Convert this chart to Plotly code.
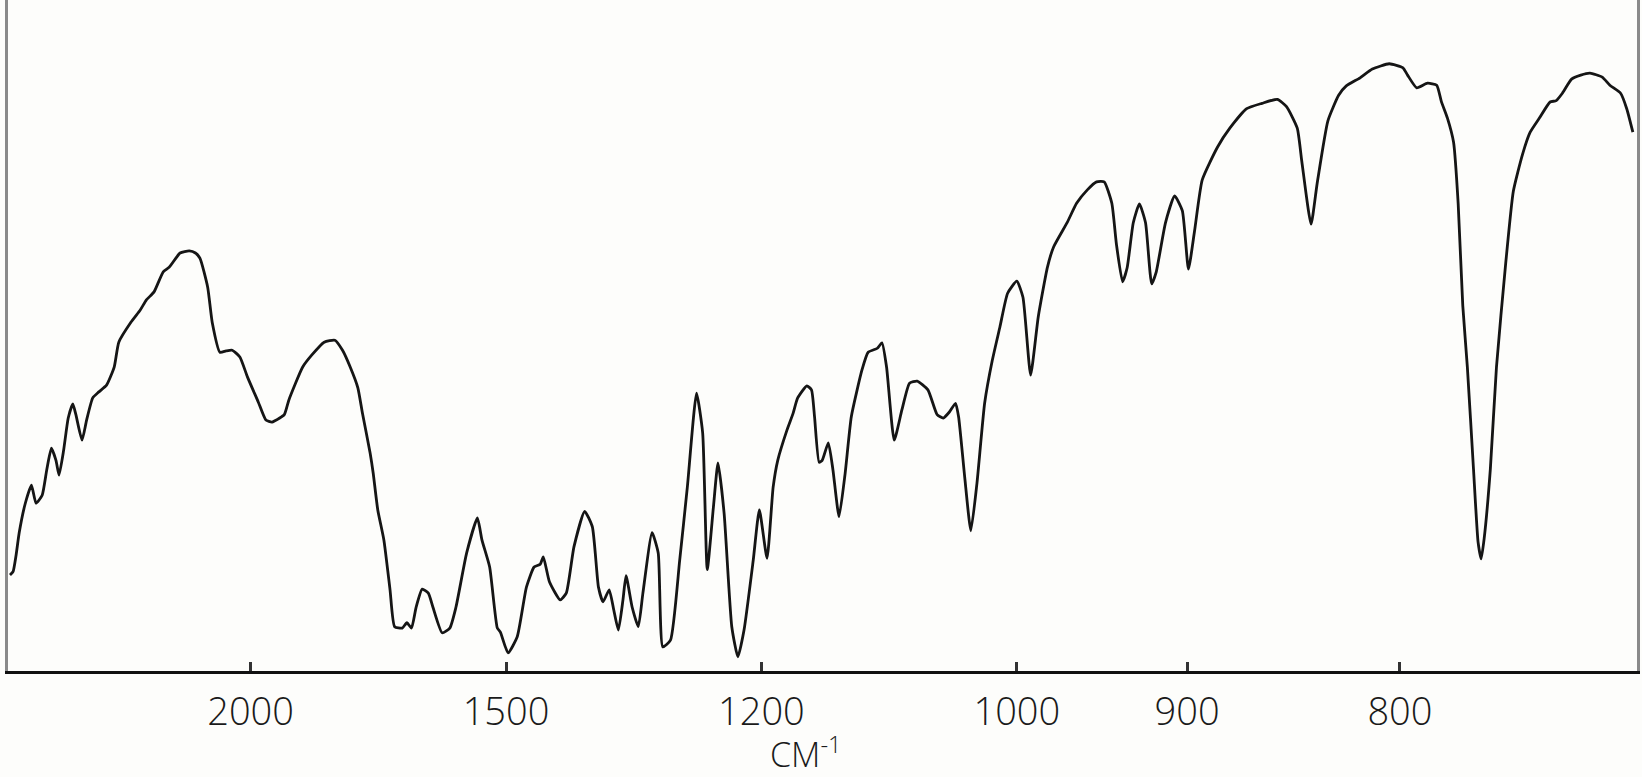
import plotly.graph_objects as go

# IR spectrum: chart abscissa is linear in wavelength (micrometres), labelled in cm^-1
wavelength_um = [
    3.43, 3.45, 3.47, 3.49, 3.53, 3.57, 3.60, 3.64, 3.67, 3.70, 3.73, 3.75, 3.78, 3.81, 3.84, 3.86,
    3.90, 3.93, 3.97, 4.01, 4.06, 4.11, 4.14, 4.22, 4.28, 4.32, 4.37, 4.43, 4.47, 4.54, 4.60, 4.64,
    4.67, 4.72, 4.75, 4.80, 4.84, 4.88, 4.93, 4.98, 5.05, 5.10, 5.14, 5.19, 5.22, 5.25, 5.34, 5.40,
    5.48, 5.55, 5.60, 5.65, 5.70, 5.73, 5.78, 5.80, 5.83, 5.87, 5.91, 5.94, 5.99, 6.02, 6.05, 6.08,
    6.12, 6.16, 6.19, 6.25, 6.30, 6.34, 6.41, 6.48, 6.51, 6.56, 6.61, 6.63, 6.68, 6.74, 6.80, 6.85,
    6.89, 6.91, 6.95, 7.02, 7.06, 7.11, 7.18, 7.23, 7.27, 7.30, 7.34, 7.37, 7.40, 7.43, 7.45, 7.49,
    7.53, 7.56, 7.62, 7.66, 7.69, 7.74, 7.80, 7.85, 7.91, 7.95, 7.98, 8.02, 8.05, 8.09, 8.14, 8.18,
    8.22, 8.28, 8.32, 8.37, 8.41, 8.44, 8.50, 8.54, 8.57, 8.63, 8.66, 8.68, 8.71, 8.73, 8.77, 8.80,
    8.84, 8.88, 8.92, 8.99, 9.03, 9.09, 9.12, 9.15, 9.20, 9.25, 9.30, 9.35, 9.42, 9.48, 9.52, 9.56,
    9.60, 9.62, 9.66, 9.70, 9.74, 9.79, 9.84, 9.89, 9.94, 10.00, 10.04, 10.09, 10.14, 10.20, 10.24, 10.33,
    10.39, 10.46, 10.52, 10.57, 10.62, 10.65, 10.69, 10.72, 10.76, 10.80, 10.84, 10.88, 10.91, 10.97, 11.03, 11.08,
    11.12, 11.16, 11.21, 11.31, 11.39, 11.50, 11.60, 11.70, 11.76, 11.83, 11.86, 11.92, 11.96, 12.03, 12.10, 12.15,
    12.24, 12.32, 12.43, 12.52, 12.55, 12.61, 12.68, 12.74, 12.77, 12.81, 12.85, 12.88, 12.91, 12.94, 12.98, 13.01,
    13.03, 13.05, 13.09, 13.13, 13.19, 13.24, 13.30, 13.35, 13.41, 13.48, 13.52, 13.56, 13.62, 13.68, 13.74, 13.82,
    13.87, 13.94, 13.98, 14.02,
]

transmittance = [
    14.3, 14.8, 17.3, 20.6, 25.0, 27.7, 25.0, 26.2, 30.0, 33.2, 31.4, 29.2, 32.9, 37.7, 39.8, 38.2,
    34.4, 37.4, 40.7, 41.6, 42.6, 45.3, 49.0, 52.0, 53.8, 55.3, 56.5, 59.5, 60.2, 62.3, 62.6, 62.3,
    61.5, 57.2, 51.9, 47.5, 47.7, 47.8, 46.8, 43.8, 40.1, 37.4, 37.1, 37.7, 38.2, 40.4, 45.3, 47.1,
    49.0, 49.3, 47.8, 45.3, 42.2, 38.4, 32.5, 29.5, 24.0, 19.5, 12.1, 6.6, 6.4, 7.2, 6.4, 9.5,
    12.2, 11.6, 9.5, 5.7, 6.4, 9.5, 17.6, 22.8, 19.5, 15.5, 6.4, 5.8, 2.7, 5.1, 12.5, 15.5,
    15.9, 17.0, 13.3, 10.6, 11.6, 18.5, 23.8, 21.5, 12.5, 10.3, 12.1, 9.1, 6.1, 10.6, 14.2, 9.5,
    6.6, 11.6, 20.6, 17.6, 3.6, 4.6, 16.5, 27.4, 41.4, 35.5, 15.1, 24.4, 31.0, 23.5, 6.6, 2.1,
    6.1, 16.5, 24.0, 16.8, 27.4, 31.4, 35.9, 38.4, 40.7, 42.5, 41.9, 37.9, 31.1, 31.4, 34.0, 30.0,
    23.0, 29.5, 37.9, 44.9, 47.5, 48.1, 48.9, 45.3, 34.4, 38.9, 42.9, 43.2, 41.9, 38.2, 37.7, 38.6,
    39.9, 37.9, 28.9, 20.9, 28.0, 39.9, 46.3, 51.3, 56.3, 58.1, 55.7, 44.1, 52.8, 60.2, 63.2, 66.9,
    69.7, 71.7, 72.9, 72.9, 69.7, 63.6, 58.0, 60.1, 66.8, 69.6, 66.8, 57.7, 59.5, 66.8, 70.8, 68.6,
    59.9, 65.6, 73.2, 78.1, 80.9, 83.8, 84.6, 85.2, 84.1, 80.9, 75.9, 66.6, 72.7, 82.0, 85.8, 87.2,
    88.4, 89.7, 90.5, 89.9, 88.8, 86.9, 87.6, 87.3, 84.9, 82.4, 78.8, 69.7, 54.5, 45.3, 30.1, 19.2,
    16.7, 19.8, 30.1, 45.3, 60.7, 71.5, 77.0, 80.3, 82.4, 84.8, 85.0, 86.1, 88.2, 88.8, 89.1, 88.5,
    87.3, 86.1, 83.8, 80.3,
]

tick_wavenumbers = [2000, 1500, 1200, 1000, 900, 800]
tick_labels = [str(w) for w in tick_wavenumbers]
tick_positions_um = [10000.0 / w for w in tick_wavenumbers]

x_range_um = [3.417, 14.047]

FONT = "Open Sans, Liberation Sans, sans-serif"

fig = go.Figure()
fig.add_trace(go.Scatter(
    x=wavelength_um,
    y=transmittance,
    mode="lines",
    line=dict(color="#151515", width=2.8, shape="spline", smoothing=0.5),
    hoverinfo="skip",
    showlegend=False,
))

fig.update_layout(
    width=1642,
    height=777,
    margin=dict(l=8, r=5, t=0, b=106),
    paper_bgcolor="#fdfdfb",
    plot_bgcolor="#fdfdfb",
    font=dict(family=FONT, color="#1a1a1a"),
    xaxis=dict(
        range=x_range_um,
        tickvals=tick_positions_um,
        ticktext=tick_labels,
        ticks="inside",
        ticklen=9,
        tickwidth=3,
        tickcolor="#333333",
        showline=True,
        linecolor="#111111",
        linewidth=3,
        mirror=False,
        showgrid=False,
        zeroline=False,
        tickfont=dict(size=38, family=FONT, weight=300),
        ticklabelstandoff=5,
    ),
    yaxis=dict(
        range=[0, 100],
        showticklabels=False,
        ticks="",
        showgrid=False,
        zeroline=False,
        showline=True,
        linecolor="#8a8a8a",
        linewidth=3,
        mirror=True,
    ),
    annotations=[
        dict(
            text="CM<sup>-1</sup>",
            xref="paper", yref="paper",
            x=0.4897, y=-0.121,
            xanchor="center", yanchor="middle",
            showarrow=False,
            font=dict(size=34, family=FONT, weight=300, color="#1a1a1a"),
        )
    ],
)

fig.write_html("out.html")
